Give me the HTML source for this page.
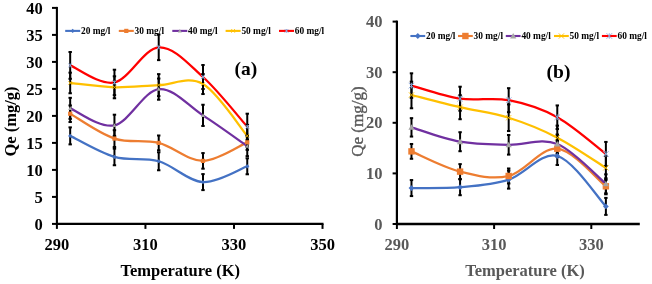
<!DOCTYPE html>
<html><head><meta charset="utf-8"><style>
html,body{margin:0;padding:0;background:#fff;width:652px;height:284px;overflow:hidden}
svg{display:block;will-change:transform}
text{font-family:"Liberation Serif", serif;font-weight:bold}
.tl{font-size:16.5px;fill:#000}
.tr{font-size:16.5px;fill:#595959}
.lg{font-size:9.4px;fill:#000}
.yr{font-size:17px;fill:#595959;font-weight:normal;stroke:#595959;stroke-width:0.35px}
.xt{letter-spacing:0px}
.lab{font-size:19.5px;fill:#000}
</style></head><body>
<svg width="652" height="284" viewBox="0 0 652 284">
<rect width="652" height="284" fill="#fff"/>
<path d="M56.90,6.90 V224.90" stroke="#000" stroke-width="2.1" fill="none"/>
<path d="M52,223.90 H56.90" stroke="#000" stroke-width="2" fill="none"/>
<text x="42.7" y="229.60" text-anchor="end" class="tl">0</text>
<path d="M52,196.90 H56.90" stroke="#000" stroke-width="2" fill="none"/>
<text x="42.7" y="202.60" text-anchor="end" class="tl">5</text>
<path d="M52,169.90 H56.90" stroke="#000" stroke-width="2" fill="none"/>
<text x="42.7" y="175.60" text-anchor="end" class="tl">10</text>
<path d="M52,142.90 H56.90" stroke="#000" stroke-width="2" fill="none"/>
<text x="42.7" y="148.60" text-anchor="end" class="tl">15</text>
<path d="M52,115.90 H56.90" stroke="#000" stroke-width="2" fill="none"/>
<text x="42.7" y="121.60" text-anchor="end" class="tl">20</text>
<path d="M52,88.90 H56.90" stroke="#000" stroke-width="2" fill="none"/>
<text x="42.7" y="94.60" text-anchor="end" class="tl">25</text>
<path d="M52,61.90 H56.90" stroke="#000" stroke-width="2" fill="none"/>
<text x="42.7" y="67.60" text-anchor="end" class="tl">30</text>
<path d="M52,34.90 H56.90" stroke="#000" stroke-width="2" fill="none"/>
<text x="42.7" y="40.60" text-anchor="end" class="tl">35</text>
<path d="M52,7.90 H56.90" stroke="#000" stroke-width="2" fill="none"/>
<text x="42.7" y="13.60" text-anchor="end" class="tl">40</text>
<path d="M55.90,223.90 H323.52" stroke="#000" stroke-width="2.2" fill="none"/>
<path d="M56.90,223.90 V228.90" stroke="#000" stroke-width="2" fill="none"/>
<text x="56.90" y="249.6" text-anchor="middle" class="tl">290</text>
<path d="M145.44,223.90 V228.90" stroke="#000" stroke-width="2" fill="none"/>
<text x="145.44" y="249.6" text-anchor="middle" class="tl">310</text>
<path d="M233.98,223.90 V228.90" stroke="#000" stroke-width="2" fill="none"/>
<text x="233.98" y="249.6" text-anchor="middle" class="tl">330</text>
<path d="M322.52,223.90 V228.90" stroke="#000" stroke-width="2" fill="none"/>
<text x="322.52" y="249.6" text-anchor="middle" class="tl">350</text>
<text x="180.2" y="275.6" text-anchor="middle" class="tl xt">Temperature (K)</text>
<text transform="translate(15.8,121.5) rotate(-90)" text-anchor="middle" class="tl xt">Qe (mg/g)</text>
<text x="234.6" y="75.2" class="lab">(a)</text>
<path d="M70.18,135.88 C77.56,139.39 99.69,152.71 114.45,156.94 C129.21,161.17 143.96,157.07 158.72,161.26 C173.48,165.45 188.23,181.27 202.99,182.10 C217.75,182.94 239.88,168.92 247.26,166.28" fill="none" stroke="#4472C4" stroke-width="2.25" stroke-linecap="round" stroke-linejoin="round"/>
<path d="M70.18,113.74 C77.56,117.88 99.69,133.72 114.45,138.58 C129.21,143.44 143.96,139.18 158.72,142.90 C173.48,146.62 188.23,160.97 202.99,160.88 C217.75,160.79 239.88,145.45 247.26,142.36" fill="none" stroke="#ED7D31" stroke-width="2.25" stroke-linecap="round" stroke-linejoin="round"/>
<path d="M70.18,108.34 C77.56,111.17 99.69,128.50 114.45,125.30 C129.21,122.09 143.96,90.77 158.72,89.12 C173.48,87.46 188.23,105.86 202.99,115.36 C217.75,124.86 239.88,141.01 247.26,146.14" fill="none" stroke="#7030A0" stroke-width="2.25" stroke-linecap="round" stroke-linejoin="round"/>
<path d="M70.18,82.96 C77.56,83.68 99.69,86.92 114.45,87.28 C129.21,87.64 143.96,85.66 158.72,85.12 C173.48,84.58 188.23,75.58 202.99,84.04 C217.75,92.50 239.88,127.24 247.26,135.88" fill="none" stroke="#FFC000" stroke-width="2.25" stroke-linecap="round" stroke-linejoin="round"/>
<path d="M70.18,65.41 C77.56,68.24 99.69,85.43 114.45,82.42 C129.21,79.40 143.96,48.22 158.72,47.32 C173.48,46.42 188.23,63.79 202.99,77.02 C217.75,90.25 239.88,118.42 247.26,126.70" fill="none" stroke="#FF0000" stroke-width="2.25" stroke-linecap="round" stroke-linejoin="round"/>
<path d="M70.18,127.38 V144.38" stroke="#000" stroke-width="2.00" fill="none"/>
<rect x="68.48" y="126.38" width="3.40" height="2.00" fill="#000"/>
<rect x="68.48" y="143.38" width="3.40" height="2.00" fill="#000"/>
<path d="M114.45,148.64 V165.24" stroke="#000" stroke-width="2.00" fill="none"/>
<rect x="112.75" y="147.64" width="3.40" height="2.00" fill="#000"/>
<rect x="112.75" y="164.24" width="3.40" height="2.00" fill="#000"/>
<path d="M158.72,152.26 V170.26" stroke="#000" stroke-width="2.00" fill="none"/>
<rect x="157.02" y="151.26" width="3.40" height="2.00" fill="#000"/>
<rect x="157.02" y="169.26" width="3.40" height="2.00" fill="#000"/>
<path d="M202.99,174.10 V190.10" stroke="#000" stroke-width="2.00" fill="none"/>
<rect x="201.29" y="173.10" width="3.40" height="2.00" fill="#000"/>
<rect x="201.29" y="189.10" width="3.40" height="2.00" fill="#000"/>
<path d="M247.26,158.28 V174.28" stroke="#000" stroke-width="2.00" fill="none"/>
<rect x="245.56" y="157.28" width="3.40" height="2.00" fill="#000"/>
<rect x="245.56" y="173.28" width="3.40" height="2.00" fill="#000"/>
<path d="M70.18,105.44 V122.04" stroke="#000" stroke-width="2.00" fill="none"/>
<rect x="68.48" y="104.44" width="3.40" height="2.00" fill="#000"/>
<rect x="68.48" y="121.04" width="3.40" height="2.00" fill="#000"/>
<path d="M114.45,130.18 V146.98" stroke="#000" stroke-width="2.00" fill="none"/>
<rect x="112.75" y="129.18" width="3.40" height="2.00" fill="#000"/>
<rect x="112.75" y="145.98" width="3.40" height="2.00" fill="#000"/>
<path d="M158.72,135.50 V150.30" stroke="#000" stroke-width="2.00" fill="none"/>
<rect x="157.02" y="134.50" width="3.40" height="2.00" fill="#000"/>
<rect x="157.02" y="149.30" width="3.40" height="2.00" fill="#000"/>
<path d="M202.99,153.08 V168.68" stroke="#000" stroke-width="2.00" fill="none"/>
<rect x="201.29" y="152.08" width="3.40" height="2.00" fill="#000"/>
<rect x="201.29" y="167.68" width="3.40" height="2.00" fill="#000"/>
<path d="M247.26,134.86 V149.86" stroke="#000" stroke-width="2.00" fill="none"/>
<rect x="245.56" y="133.86" width="3.40" height="2.00" fill="#000"/>
<rect x="245.56" y="148.86" width="3.40" height="2.00" fill="#000"/>
<path d="M70.18,97.84 V118.84" stroke="#000" stroke-width="2.00" fill="none"/>
<rect x="68.48" y="96.84" width="3.40" height="2.00" fill="#000"/>
<rect x="68.48" y="117.84" width="3.40" height="2.00" fill="#000"/>
<path d="M114.45,114.70 V135.90" stroke="#000" stroke-width="2.00" fill="none"/>
<rect x="112.75" y="113.70" width="3.40" height="2.00" fill="#000"/>
<rect x="112.75" y="134.90" width="3.40" height="2.00" fill="#000"/>
<path d="M158.72,78.52 V99.72" stroke="#000" stroke-width="2.00" fill="none"/>
<rect x="157.02" y="77.52" width="3.40" height="2.00" fill="#000"/>
<rect x="157.02" y="98.72" width="3.40" height="2.00" fill="#000"/>
<path d="M202.99,104.76 V125.96" stroke="#000" stroke-width="2.00" fill="none"/>
<rect x="201.29" y="103.76" width="3.40" height="2.00" fill="#000"/>
<rect x="201.29" y="124.96" width="3.40" height="2.00" fill="#000"/>
<path d="M247.26,136.14 V156.14" stroke="#000" stroke-width="2.00" fill="none"/>
<rect x="245.56" y="135.14" width="3.40" height="2.00" fill="#000"/>
<rect x="245.56" y="155.14" width="3.40" height="2.00" fill="#000"/>
<path d="M70.18,72.66 V93.26" stroke="#000" stroke-width="2.00" fill="none"/>
<rect x="68.48" y="71.66" width="3.40" height="2.00" fill="#000"/>
<rect x="68.48" y="92.26" width="3.40" height="2.00" fill="#000"/>
<path d="M114.45,76.28 V98.28" stroke="#000" stroke-width="2.00" fill="none"/>
<rect x="112.75" y="75.28" width="3.40" height="2.00" fill="#000"/>
<rect x="112.75" y="97.28" width="3.40" height="2.00" fill="#000"/>
<path d="M158.72,74.12 V96.12" stroke="#000" stroke-width="2.00" fill="none"/>
<rect x="157.02" y="73.12" width="3.40" height="2.00" fill="#000"/>
<rect x="157.02" y="95.12" width="3.40" height="2.00" fill="#000"/>
<path d="M202.99,74.04 V94.04" stroke="#000" stroke-width="2.00" fill="none"/>
<rect x="201.29" y="73.04" width="3.40" height="2.00" fill="#000"/>
<rect x="201.29" y="93.04" width="3.40" height="2.00" fill="#000"/>
<path d="M247.26,124.88 V146.88" stroke="#000" stroke-width="2.00" fill="none"/>
<rect x="245.56" y="123.88" width="3.40" height="2.00" fill="#000"/>
<rect x="245.56" y="145.88" width="3.40" height="2.00" fill="#000"/>
<path d="M70.18,52.01 V78.81" stroke="#000" stroke-width="2.00" fill="none"/>
<rect x="68.48" y="51.01" width="3.40" height="2.00" fill="#000"/>
<rect x="68.48" y="77.81" width="3.40" height="2.00" fill="#000"/>
<path d="M114.45,69.72 V95.12" stroke="#000" stroke-width="2.00" fill="none"/>
<rect x="112.75" y="68.72" width="3.40" height="2.00" fill="#000"/>
<rect x="112.75" y="94.12" width="3.40" height="2.00" fill="#000"/>
<path d="M158.72,34.52 V60.12" stroke="#000" stroke-width="2.00" fill="none"/>
<rect x="157.02" y="33.52" width="3.40" height="2.00" fill="#000"/>
<rect x="157.02" y="59.12" width="3.40" height="2.00" fill="#000"/>
<path d="M202.99,65.02 V89.02" stroke="#000" stroke-width="2.00" fill="none"/>
<rect x="201.29" y="64.02" width="3.40" height="2.00" fill="#000"/>
<rect x="201.29" y="88.02" width="3.40" height="2.00" fill="#000"/>
<path d="M247.26,113.70 V139.70" stroke="#000" stroke-width="2.00" fill="none"/>
<rect x="245.56" y="112.70" width="3.40" height="2.00" fill="#000"/>
<rect x="245.56" y="138.70" width="3.40" height="2.00" fill="#000"/>
<path d="M70.18,133.78 l2.10,2.10 l-2.10,2.10 l-2.10,-2.10 z" fill="#4472C4"/>
<path d="M114.45,154.84 l2.10,2.10 l-2.10,2.10 l-2.10,-2.10 z" fill="#4472C4"/>
<path d="M158.72,159.16 l2.10,2.10 l-2.10,2.10 l-2.10,-2.10 z" fill="#4472C4"/>
<path d="M202.99,180.00 l2.10,2.10 l-2.10,2.10 l-2.10,-2.10 z" fill="#4472C4"/>
<path d="M247.26,164.18 l2.10,2.10 l-2.10,2.10 l-2.10,-2.10 z" fill="#4472C4"/>
<rect x="68.08" y="111.64" width="4.20" height="4.20" fill="#ED7D31"/>
<rect x="112.35" y="136.48" width="4.20" height="4.20" fill="#ED7D31"/>
<rect x="156.62" y="140.80" width="4.20" height="4.20" fill="#ED7D31"/>
<rect x="200.89" y="158.78" width="4.20" height="4.20" fill="#ED7D31"/>
<rect x="245.16" y="140.26" width="4.20" height="4.20" fill="#ED7D31"/>
<path d="M70.18,106.34 l2.00,3.60 l-4.00,0 z" fill="#A5A5A5"/>
<path d="M114.45,123.30 l2.00,3.60 l-4.00,0 z" fill="#A5A5A5"/>
<path d="M158.72,87.12 l2.00,3.60 l-4.00,0 z" fill="#A5A5A5"/>
<path d="M202.99,113.36 l2.00,3.60 l-4.00,0 z" fill="#A5A5A5"/>
<path d="M247.26,144.14 l2.00,3.60 l-4.00,0 z" fill="#A5A5A5"/>
<path d="M68.38,81.16 l3.60,3.60 M71.98,81.16 l-3.60,3.60" stroke="#FFC000" stroke-width="0.9" fill="none"/>
<path d="M112.65,85.48 l3.60,3.60 M116.25,85.48 l-3.60,3.60" stroke="#FFC000" stroke-width="0.9" fill="none"/>
<path d="M156.92,83.32 l3.60,3.60 M160.52,83.32 l-3.60,3.60" stroke="#FFC000" stroke-width="0.9" fill="none"/>
<path d="M201.19,82.24 l3.60,3.60 M204.79,82.24 l-3.60,3.60" stroke="#FFC000" stroke-width="0.9" fill="none"/>
<path d="M245.46,134.08 l3.60,3.60 M249.06,134.08 l-3.60,3.60" stroke="#FFC000" stroke-width="0.9" fill="none"/>
<path d="M68.28,63.51 l3.80,3.80 M72.08,63.51 l-3.80,3.80 M70.18,63.51 l0,3.80" stroke="#8FAADC" stroke-width="0.9" fill="none"/>
<path d="M112.55,80.52 l3.80,3.80 M116.35,80.52 l-3.80,3.80 M114.45,80.52 l0,3.80" stroke="#8FAADC" stroke-width="0.9" fill="none"/>
<path d="M156.82,45.42 l3.80,3.80 M160.62,45.42 l-3.80,3.80 M158.72,45.42 l0,3.80" stroke="#8FAADC" stroke-width="0.9" fill="none"/>
<path d="M201.09,75.12 l3.80,3.80 M204.89,75.12 l-3.80,3.80 M202.99,75.12 l0,3.80" stroke="#8FAADC" stroke-width="0.9" fill="none"/>
<path d="M245.36,124.80 l3.80,3.80 M249.16,124.80 l-3.80,3.80 M247.26,124.80 l0,3.80" stroke="#8FAADC" stroke-width="0.9" fill="none"/>
<path d="M65.20,30.90 h15.00" stroke="#4472C4" stroke-width="2.1" fill="none"/>
<path d="M72.70,28.80 l2.10,2.10 l-2.10,2.10 l-2.10,-2.10 z" fill="#4472C4"/>
<text x="81.00" y="34.10" class="lg">20 mg/l</text>
<path d="M118.80,30.90 h15.00" stroke="#ED7D31" stroke-width="2.1" fill="none"/>
<rect x="124.20" y="28.80" width="4.20" height="4.20" fill="#ED7D31"/>
<text x="134.60" y="34.10" class="lg">30 mg/l</text>
<path d="M172.30,30.90 h15.00" stroke="#7030A0" stroke-width="2.1" fill="none"/>
<path d="M179.80,28.90 l2.00,3.60 l-4.00,0 z" fill="#A5A5A5"/>
<text x="188.10" y="34.10" class="lg">40 mg/l</text>
<path d="M225.60,30.90 h15.00" stroke="#FFC000" stroke-width="2.1" fill="none"/>
<path d="M231.30,29.10 l3.60,3.60 M234.90,29.10 l-3.60,3.60" stroke="#FFC000" stroke-width="0.9" fill="none"/>
<text x="241.40" y="34.10" class="lg">50 mg/l</text>
<path d="M279.00,30.90 h15.00" stroke="#FF0000" stroke-width="2.1" fill="none"/>
<path d="M284.60,29.00 l3.80,3.80 M288.40,29.00 l-3.80,3.80 M286.50,29.00 l0,3.80" stroke="#8FAADC" stroke-width="0.9" fill="none"/>
<text x="294.80" y="34.10" class="lg">60 mg/l</text>
<path d="M396.90,20.60 V225.00" stroke="#000" stroke-width="2.2" fill="none"/>
<path d="M392.6,224.00 H396.90" stroke="#000" stroke-width="2" fill="none"/>
<text x="382.4" y="229.60" text-anchor="end" class="tr">0</text>
<path d="M392.6,173.40 H396.90" stroke="#000" stroke-width="2" fill="none"/>
<text x="382.4" y="179.00" text-anchor="end" class="tr">10</text>
<path d="M392.6,122.80 H396.90" stroke="#000" stroke-width="2" fill="none"/>
<text x="382.4" y="128.40" text-anchor="end" class="tr">20</text>
<path d="M392.6,72.20 H396.90" stroke="#000" stroke-width="2" fill="none"/>
<text x="382.4" y="77.80" text-anchor="end" class="tr">30</text>
<path d="M392.6,21.60 H396.90" stroke="#000" stroke-width="2" fill="none"/>
<text x="382.4" y="27.20" text-anchor="end" class="tr">40</text>
<path d="M395.90,224.00 H639.80" stroke="#000" stroke-width="2.6" fill="none"/>
<path d="M396.90,224.00 V229.00" stroke="#000" stroke-width="2" fill="none"/>
<text x="396.90" y="250.2" text-anchor="middle" class="tr">290</text>
<path d="M494.10,224.00 V229.00" stroke="#000" stroke-width="2" fill="none"/>
<text x="494.10" y="250.2" text-anchor="middle" class="tr">310</text>
<path d="M591.30,224.00 V229.00" stroke="#000" stroke-width="2" fill="none"/>
<text x="591.30" y="250.2" text-anchor="middle" class="tr">330</text>
<text x="525" y="275.6" text-anchor="middle" class="tr xt">Temperature (K)</text>
<text transform="translate(363.0,121.6) rotate(-90)" text-anchor="middle" class="yr">Qe (mg/g)</text>
<text x="546.6" y="77.9" class="lab">(b)</text>
<path d="M411.48,188.07 C419.58,187.93 443.88,188.62 460.08,187.21 C476.28,185.81 492.48,184.83 508.68,179.62 C524.88,174.42 541.08,151.53 557.28,155.99 C573.48,160.45 597.78,197.99 605.88,206.39" fill="none" stroke="#4472C4" stroke-width="2.25" stroke-linecap="round" stroke-linejoin="round"/>
<path d="M411.48,151.39 C419.58,154.76 443.88,167.53 460.08,171.63 C476.28,175.73 492.48,179.80 508.68,175.98 C524.88,172.16 541.08,146.99 557.28,148.71 C573.48,150.43 597.78,180.04 605.88,186.30" fill="none" stroke="#ED7D31" stroke-width="2.25" stroke-linecap="round" stroke-linejoin="round"/>
<path d="M411.48,127.35 C419.58,129.75 443.88,138.81 460.08,141.72 C476.28,144.63 492.48,144.42 508.68,144.81 C524.88,145.20 541.08,137.55 557.28,144.05 C573.48,150.55 597.78,177.19 605.88,183.82" fill="none" stroke="#7030A0" stroke-width="2.25" stroke-linecap="round" stroke-linejoin="round"/>
<path d="M411.48,94.97 C419.58,97.01 443.88,103.42 460.08,107.22 C476.28,111.01 492.48,112.67 508.68,117.74 C524.88,122.81 541.08,129.28 557.28,137.63 C573.48,145.97 597.78,162.80 605.88,167.83" fill="none" stroke="#FFC000" stroke-width="2.25" stroke-linecap="round" stroke-linejoin="round"/>
<path d="M411.48,85.61 C419.58,87.79 443.88,96.29 460.08,98.71 C476.28,101.14 492.48,97.10 508.68,100.18 C524.88,103.27 541.08,108.28 557.28,117.23 C573.48,126.19 597.78,147.80 605.88,153.92" fill="none" stroke="#FF0000" stroke-width="2.25" stroke-linecap="round" stroke-linejoin="round"/>
<path d="M411.48,180.07 V196.07" stroke="#000" stroke-width="2.00" fill="none"/>
<rect x="409.78" y="179.07" width="3.40" height="2.00" fill="#000"/>
<rect x="409.78" y="195.07" width="3.40" height="2.00" fill="#000"/>
<path d="M460.08,179.21 V195.21" stroke="#000" stroke-width="2.00" fill="none"/>
<rect x="458.38" y="178.21" width="3.40" height="2.00" fill="#000"/>
<rect x="458.38" y="194.21" width="3.40" height="2.00" fill="#000"/>
<path d="M508.68,170.62 V188.62" stroke="#000" stroke-width="2.00" fill="none"/>
<rect x="506.98" y="169.62" width="3.40" height="2.00" fill="#000"/>
<rect x="506.98" y="187.62" width="3.40" height="2.00" fill="#000"/>
<path d="M557.28,146.99 V164.99" stroke="#000" stroke-width="2.00" fill="none"/>
<rect x="555.58" y="145.99" width="3.40" height="2.00" fill="#000"/>
<rect x="555.58" y="163.99" width="3.40" height="2.00" fill="#000"/>
<path d="M605.88,197.89 V214.89" stroke="#000" stroke-width="2.00" fill="none"/>
<rect x="604.18" y="196.89" width="3.40" height="2.00" fill="#000"/>
<rect x="604.18" y="213.89" width="3.40" height="2.00" fill="#000"/>
<path d="M411.48,143.99 V158.79" stroke="#000" stroke-width="2.00" fill="none"/>
<rect x="409.78" y="142.99" width="3.40" height="2.00" fill="#000"/>
<rect x="409.78" y="157.79" width="3.40" height="2.00" fill="#000"/>
<path d="M460.08,164.13 V179.13" stroke="#000" stroke-width="2.00" fill="none"/>
<rect x="458.38" y="163.13" width="3.40" height="2.00" fill="#000"/>
<rect x="458.38" y="178.13" width="3.40" height="2.00" fill="#000"/>
<path d="M508.68,168.48 V183.48" stroke="#000" stroke-width="2.00" fill="none"/>
<rect x="506.98" y="167.48" width="3.40" height="2.00" fill="#000"/>
<rect x="506.98" y="182.48" width="3.40" height="2.00" fill="#000"/>
<path d="M557.28,140.71 V156.71" stroke="#000" stroke-width="2.00" fill="none"/>
<rect x="555.58" y="139.71" width="3.40" height="2.00" fill="#000"/>
<rect x="555.58" y="155.71" width="3.40" height="2.00" fill="#000"/>
<path d="M605.88,178.30 V194.30" stroke="#000" stroke-width="2.00" fill="none"/>
<rect x="604.18" y="177.30" width="3.40" height="2.00" fill="#000"/>
<rect x="604.18" y="193.30" width="3.40" height="2.00" fill="#000"/>
<path d="M411.48,118.15 V136.55" stroke="#000" stroke-width="2.00" fill="none"/>
<rect x="409.78" y="117.15" width="3.40" height="2.00" fill="#000"/>
<rect x="409.78" y="135.55" width="3.40" height="2.00" fill="#000"/>
<path d="M460.08,132.22 V151.22" stroke="#000" stroke-width="2.00" fill="none"/>
<rect x="458.38" y="131.22" width="3.40" height="2.00" fill="#000"/>
<rect x="458.38" y="150.22" width="3.40" height="2.00" fill="#000"/>
<path d="M508.68,135.01 V154.61" stroke="#000" stroke-width="2.00" fill="none"/>
<rect x="506.98" y="134.01" width="3.40" height="2.00" fill="#000"/>
<rect x="506.98" y="153.61" width="3.40" height="2.00" fill="#000"/>
<path d="M557.28,134.55 V153.55" stroke="#000" stroke-width="2.00" fill="none"/>
<rect x="555.58" y="133.55" width="3.40" height="2.00" fill="#000"/>
<rect x="555.58" y="152.55" width="3.40" height="2.00" fill="#000"/>
<path d="M605.88,174.32 V193.32" stroke="#000" stroke-width="2.00" fill="none"/>
<rect x="604.18" y="173.32" width="3.40" height="2.00" fill="#000"/>
<rect x="604.18" y="192.32" width="3.40" height="2.00" fill="#000"/>
<path d="M411.48,81.67 V108.27" stroke="#000" stroke-width="2.00" fill="none"/>
<rect x="409.78" y="80.67" width="3.40" height="2.00" fill="#000"/>
<rect x="409.78" y="107.27" width="3.40" height="2.00" fill="#000"/>
<path d="M460.08,95.22 V119.22" stroke="#000" stroke-width="2.00" fill="none"/>
<rect x="458.38" y="94.22" width="3.40" height="2.00" fill="#000"/>
<rect x="458.38" y="118.22" width="3.40" height="2.00" fill="#000"/>
<path d="M508.68,104.44 V131.04" stroke="#000" stroke-width="2.00" fill="none"/>
<rect x="506.98" y="103.44" width="3.40" height="2.00" fill="#000"/>
<rect x="506.98" y="130.04" width="3.40" height="2.00" fill="#000"/>
<path d="M557.28,125.63 V149.63" stroke="#000" stroke-width="2.00" fill="none"/>
<rect x="555.58" y="124.63" width="3.40" height="2.00" fill="#000"/>
<rect x="555.58" y="148.63" width="3.40" height="2.00" fill="#000"/>
<path d="M605.88,155.83 V179.83" stroke="#000" stroke-width="2.00" fill="none"/>
<rect x="604.18" y="154.83" width="3.40" height="2.00" fill="#000"/>
<rect x="604.18" y="178.83" width="3.40" height="2.00" fill="#000"/>
<path d="M411.48,73.31 V97.91" stroke="#000" stroke-width="2.00" fill="none"/>
<rect x="409.78" y="72.31" width="3.40" height="2.00" fill="#000"/>
<rect x="409.78" y="96.91" width="3.40" height="2.00" fill="#000"/>
<path d="M460.08,86.71 V110.71" stroke="#000" stroke-width="2.00" fill="none"/>
<rect x="458.38" y="85.71" width="3.40" height="2.00" fill="#000"/>
<rect x="458.38" y="109.71" width="3.40" height="2.00" fill="#000"/>
<path d="M508.68,88.18 V112.18" stroke="#000" stroke-width="2.00" fill="none"/>
<rect x="506.98" y="87.18" width="3.40" height="2.00" fill="#000"/>
<rect x="506.98" y="111.18" width="3.40" height="2.00" fill="#000"/>
<path d="M557.28,105.43 V129.03" stroke="#000" stroke-width="2.00" fill="none"/>
<rect x="555.58" y="104.43" width="3.40" height="2.00" fill="#000"/>
<rect x="555.58" y="128.03" width="3.40" height="2.00" fill="#000"/>
<path d="M605.88,141.92 V165.92" stroke="#000" stroke-width="2.00" fill="none"/>
<rect x="604.18" y="140.92" width="3.40" height="2.00" fill="#000"/>
<rect x="604.18" y="164.92" width="3.40" height="2.00" fill="#000"/>
<path d="M411.48,185.17 l2.90,2.90 l-2.90,2.90 l-2.90,-2.90 z" fill="#4472C4"/>
<path d="M460.08,184.31 l2.90,2.90 l-2.90,2.90 l-2.90,-2.90 z" fill="#4472C4"/>
<path d="M508.68,176.72 l2.90,2.90 l-2.90,2.90 l-2.90,-2.90 z" fill="#4472C4"/>
<path d="M557.28,153.09 l2.90,2.90 l-2.90,2.90 l-2.90,-2.90 z" fill="#4472C4"/>
<path d="M605.88,203.49 l2.90,2.90 l-2.90,2.90 l-2.90,-2.90 z" fill="#4472C4"/>
<rect x="408.28" y="148.19" width="6.40" height="6.40" fill="#ED7D31"/>
<rect x="456.88" y="168.43" width="6.40" height="6.40" fill="#ED7D31"/>
<rect x="505.48" y="172.78" width="6.40" height="6.40" fill="#ED7D31"/>
<rect x="554.08" y="145.51" width="6.40" height="6.40" fill="#ED7D31"/>
<rect x="602.68" y="183.10" width="6.40" height="6.40" fill="#ED7D31"/>
<path d="M411.48,124.25 l3.10,5.58 l-6.20,0 z" fill="#A5A5A5"/>
<path d="M460.08,138.62 l3.10,5.58 l-6.20,0 z" fill="#A5A5A5"/>
<path d="M508.68,141.71 l3.10,5.58 l-6.20,0 z" fill="#A5A5A5"/>
<path d="M557.28,140.95 l3.10,5.58 l-6.20,0 z" fill="#A5A5A5"/>
<path d="M605.88,180.72 l3.10,5.58 l-6.20,0 z" fill="#A5A5A5"/>
<path d="M408.88,92.37 l5.20,5.20 M414.08,92.37 l-5.20,5.20" stroke="#FFC000" stroke-width="0.9" fill="none"/>
<path d="M457.48,104.62 l5.20,5.20 M462.68,104.62 l-5.20,5.20" stroke="#FFC000" stroke-width="0.9" fill="none"/>
<path d="M506.08,115.14 l5.20,5.20 M511.28,115.14 l-5.20,5.20" stroke="#FFC000" stroke-width="0.9" fill="none"/>
<path d="M554.68,135.03 l5.20,5.20 M559.88,135.03 l-5.20,5.20" stroke="#FFC000" stroke-width="0.9" fill="none"/>
<path d="M603.28,165.23 l5.20,5.20 M608.48,165.23 l-5.20,5.20" stroke="#FFC000" stroke-width="0.9" fill="none"/>
<path d="M408.68,82.81 l5.60,5.60 M414.28,82.81 l-5.60,5.60 M411.48,82.81 l0,5.60" stroke="#8FAADC" stroke-width="0.9" fill="none"/>
<path d="M457.28,95.91 l5.60,5.60 M462.88,95.91 l-5.60,5.60 M460.08,95.91 l0,5.60" stroke="#8FAADC" stroke-width="0.9" fill="none"/>
<path d="M505.88,97.38 l5.60,5.60 M511.48,97.38 l-5.60,5.60 M508.68,97.38 l0,5.60" stroke="#8FAADC" stroke-width="0.9" fill="none"/>
<path d="M554.48,114.43 l5.60,5.60 M560.08,114.43 l-5.60,5.60 M557.28,114.43 l0,5.60" stroke="#8FAADC" stroke-width="0.9" fill="none"/>
<path d="M603.08,151.12 l5.60,5.60 M608.68,151.12 l-5.60,5.60 M605.88,151.12 l0,5.60" stroke="#8FAADC" stroke-width="0.9" fill="none"/>
<path d="M410.40,36.00 h14.80" stroke="#4472C4" stroke-width="2.1" fill="none"/>
<path d="M417.80,33.10 l2.90,2.90 l-2.90,2.90 l-2.90,-2.90 z" fill="#4472C4"/>
<text x="426.00" y="39.20" class="lg">20 mg/l</text>
<path d="M458.00,36.00 h14.80" stroke="#ED7D31" stroke-width="2.1" fill="none"/>
<rect x="462.20" y="32.80" width="6.40" height="6.40" fill="#ED7D31"/>
<text x="473.60" y="39.20" class="lg">30 mg/l</text>
<path d="M505.80,36.00 h14.80" stroke="#7030A0" stroke-width="2.1" fill="none"/>
<path d="M513.20,32.90 l3.10,5.58 l-6.20,0 z" fill="#A5A5A5"/>
<text x="521.40" y="39.20" class="lg">40 mg/l</text>
<path d="M554.00,36.00 h14.80" stroke="#FFC000" stroke-width="2.1" fill="none"/>
<path d="M558.80,33.40 l5.20,5.20 M564.00,33.40 l-5.20,5.20" stroke="#FFC000" stroke-width="0.9" fill="none"/>
<text x="569.60" y="39.20" class="lg">50 mg/l</text>
<path d="M601.90,36.00 h14.80" stroke="#FF0000" stroke-width="2.1" fill="none"/>
<path d="M606.50,33.20 l5.60,5.60 M612.10,33.20 l-5.60,5.60 M609.30,33.20 l0,5.60" stroke="#8FAADC" stroke-width="0.9" fill="none"/>
<text x="617.50" y="39.20" class="lg">60 mg/l</text>
</svg>
</body></html>
